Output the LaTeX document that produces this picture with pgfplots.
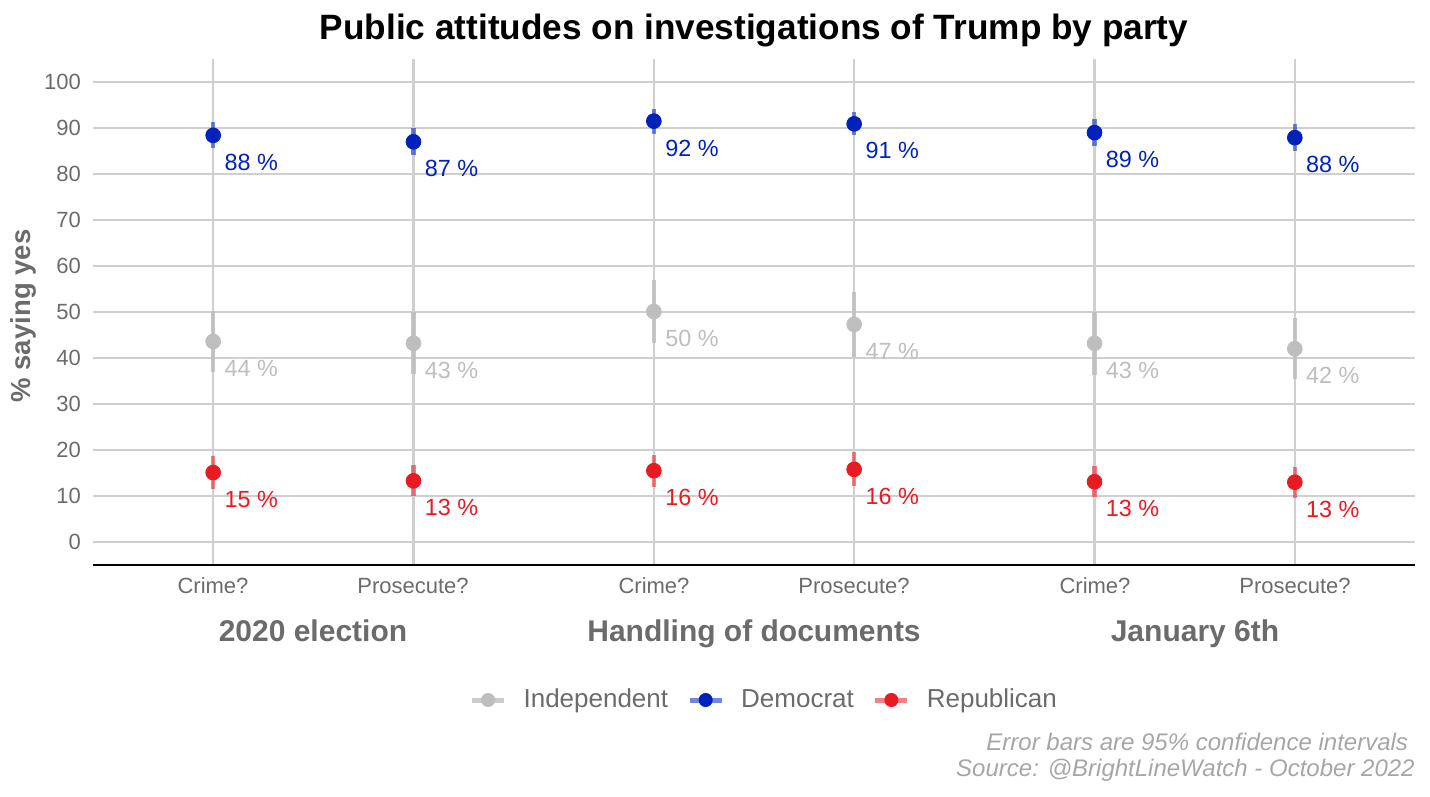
\documentclass[border=0pt]{standalone}
\usepackage{pgfplots}
\usepackage{pgfplotstable}
\pgfplotsset{compat=1.18}
\usepackage{fontspec}
\setmainfont{Liberation Sans}
\definecolor{demcol}{HTML}{0022BB}
\definecolor{repcol}{HTML}{E81B23}
\definecolor{indcol}{HTML}{BEBEBE}
\definecolor{gridcol}{HTML}{CFCFCF}
\definecolor{tickgray}{HTML}{6B6B6B}
\definecolor{capgray}{HTML}{A6A6A6}

\pgfplotstableread{
x y e lab
0 88.4 2.8 88
1 87.0 2.9 87
2.2 91.5 2.7 92
3.2 90.9 2.5 91
4.4 89.0 2.9 89
5.4 87.9 2.9 88
}\dem
\pgfplotstableread{
x y e lab
0 43.6 6.7 44
1 43.2 6.7 43
2.2 50.1 6.9 50
3.2 47.3 7.0 47
4.4 43.2 6.8 43
5.4 42.0 6.6 42
}\ind
\pgfplotstableread{
x y e lab
0 15.1 3.6 15
1 13.3 3.4 13
2.2 15.5 3.5 16
3.2 15.8 3.7 16
4.4 13.1 3.4 13
5.4 13.0 3.4 13
}\rep

\begin{document}
\begin{tikzpicture}
\path[use as bounding box] (0,0) rectangle (715pt,-398.5pt);
\begin{axis}[
  at={(46.5pt,-282.5pt)}, anchor=south west,
  scale only axis, width=661pt, height=253pt,
  xmin=-0.6, xmax=6.0, ymin=-5, ymax=105,
  xtick={0,1,2.2,3.2,4.4,5.4}, xticklabels={},
  ytick={0,10,...,100},
  grid=major, major grid style={draw=gridcol, line width=1.05pt},
  major tick length=0pt,
  axis line style={draw=none},
  yticklabel style={font=\fontsize{11}{13}\selectfont, text=tickgray, xshift=-2.5pt},
  /pgf/number format/assume math mode=true,
  clip=false,
  legend columns=3,
  legend style={at={(0.507,0)}, anchor=center, yshift=-67.5pt, draw=none, fill=none,
    font=\fontsize{13}{15}\selectfont, text=tickgray,
    /tikz/every odd column/.append style={column sep=8.5pt},
    /tikz/every even column/.append style={column sep=9.5pt},
    nodes={inner sep=0pt}},
  point meta=explicit symbolic,
  nodes near coords={\pgfplotspointmeta~\%},
  every node near coord/.append style={anchor=west, inner sep=0pt, xshift=5.5pt, yshift=-13.5pt, font=\fontsize{11.7}{13}\selectfont},
]
\draw[black, line width=1pt] (axis cs:-0.6,-5) -- (axis cs:6.0,-5);

\addplot[only marks, mark=*, mark size=3.7pt, color=indcol,
  every node near coord/.append style={text=indcol},
  legend image code/.code={\draw[line width=2.5pt, draw=indcol, opacity=0.8] (0pt,0pt) -- (16pt,0pt); \fill[indcol] (8pt,0pt) circle (3.3pt);},
  error bars/.cd, y dir=both, y explicit, error mark=none,
  error bar style={line width=2.2pt, draw=indcol, opacity=0.85}]
  table[x=x, y=y, y error=e, meta=lab] {\ind};
\addlegendentry{Independent}

\addplot[only marks, mark=*, mark size=3.7pt, color=demcol,
  every node near coord/.append style={text=demcol},
  legend image code/.code={\draw[line width=2.5pt, draw=demcol, opacity=0.55] (0pt,0pt) -- (16pt,0pt); \fill[demcol] (8pt,0pt) circle (3.3pt);},
  error bars/.cd, y dir=both, y explicit, error mark=none,
  error bar style={line width=2.2pt, draw=demcol, opacity=0.55}]
  table[x=x, y=y, y error=e, meta=lab] {\dem};
\addlegendentry{Democrat}

\addplot[only marks, mark=*, mark size=3.7pt, color=repcol,
  every node near coord/.append style={text=repcol},
  legend image code/.code={\draw[line width=2.5pt, draw=repcol, opacity=0.55] (0pt,0pt) -- (16pt,0pt); \fill[repcol] (8pt,0pt) circle (3.3pt);},
  error bars/.cd, y dir=both, y explicit, error mark=none,
  error bar style={line width=2.2pt, draw=repcol, opacity=0.55}]
  table[x=x, y=y, y error=e, meta=lab] {\rep};
\addlegendentry{Republican}
\end{axis}

\begin{scope}[x=0.5pt, y=-0.5pt]
\node[anchor=base, font=\bfseries\fontsize{17.6}{20}\selectfont] at (754,40) {Public attitudes on investigations of Trump by party};
\foreach \xx/\lab in {213/Crime?, 413/Prosecute?, 654/Crime?, 854/Prosecute?, 1095/Crime?, 1295/Prosecute?}
  \node[anchor=base, font=\fontsize{11}{13}\selectfont, text=tickgray] at (\xx,593) {\lab};
\node[anchor=base, font=\bfseries\fontsize{15}{17}\selectfont, text=tickgray] at (313,641) {2020 election};
\node[anchor=base, font=\bfseries\fontsize{15}{17}\selectfont, text=tickgray] at (754,641) {Handling of documents};
\node[anchor=base, font=\bfseries\fontsize{15}{17}\selectfont, text=tickgray] at (1195,641) {January 6th};
\node[rotate=90, anchor=base, font=\bfseries\fontsize{13.75}{16}\selectfont, text=tickgray] at (31,316) {\% saying yes};
\node[anchor=base east, inner sep=0pt, font=\itshape\fontsize{12}{14}\selectfont, text=capgray] at (1415,750) {Error bars are 95\% confidence intervals\kern3.3pt};
\node[anchor=base east, inner sep=0pt, font=\itshape\fontsize{12}{14}\selectfont, text=capgray] at (1415,776) {Source: @BrightLineWatch - October 2022};
\end{scope}
\end{tikzpicture}
\end{document}
